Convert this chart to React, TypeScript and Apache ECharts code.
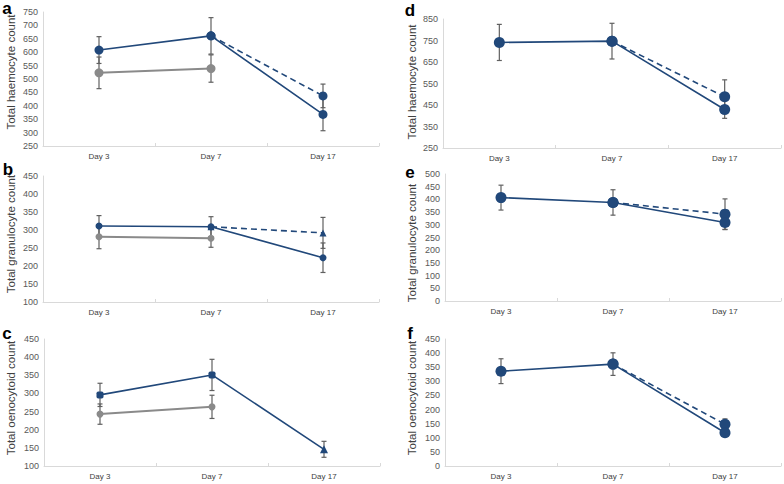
import React, { useEffect, useRef } from "react";
import * as echarts from "echarts";

const days = ["Day 3", "Day 7", "Day 17"];

// Panel a – haemocytes
const aBlue = [608, 661, 368];
const aBlueErr = [50, 68, 61];
const aDash = [null, 661, 437];
const aDashErr = [null, null, 44];
const aGray = [523, 539, null];
const aGrayErr = [59, 51, null];

// Panel b – granulocytes
const bBlue = [311, 309, 223];
const bBlueErr = [29, 28, 41];
const bDash = [null, 309, 292];
const bDashErr = [null, null, 43];
const bGray = [281, 277, null];
const bGrayErr = [33, 25, null];

// Panel c – oenocytoids
const cBlue = [296, 351, 146];
const cBlueErr = [32, 43, 22];
const cGray = [243, 263, null];
const cGrayErr = [28, 32, null];

// Panel d – haemocytes
const dBlue = [741, 747, 429];
const dBlueErr = [84, 83, 41];
const dDash = [null, 747, 488];
const dDashErr = [null, null, 79];

// Panel e – granulocytes
const eBlue = [407, 388, 309];
const eBlueErr = [49, 50, 28];
const eDash = [null, 388, 342];
const eDashErr = [null, null, 60];

// Panel f – oenocytoids
const fBlue = [336, 361, 118];
const fBlueErr = [44, 40, 12];
const fDash = [null, 361, 148];
const fDashErr = [null, null, 19];

const yTitles = [
  "Total haemocyte count",
  "Total granulocyte count",
  "Total oenocytoid count",
  "Total haemocyte count",
  "Total granulocyte count",
  "Total oenocytoid count",
];
const letters = ["a", "b", "c", "d", "e", "f"];
const yRanges = [
  [250, 750, 50, 50],
  [100, 450, 50, 50],
  [100, 450, 50, 50],
  [250, 850, 50, 100],
  [0, 500, 50, 50],
  [0, 450, 50, 50],
];

const BLUE = "#21487a";
const GRAY = "#8a8a8a";
const ERR = "#606060";

const grids = [
  { left: 43, top: 12, width: 336, height: 134 },
  { left: 43, top: 176, width: 336, height: 126 },
  { left: 44, top: 339, width: 336, height: 127 },
  { left: 443, top: 19, width: 338, height: 129 },
  { left: 445, top: 174, width: 336, height: 127 },
  { left: 445, top: 339, width: 336, height: 127 },
];
const titlePos = [
  [11, 72], [11, 234], [11, 398],
  [412, 82], [412, 243], [412, 398],
];
const letterPos = [
  [7, 8], [8, 169], [7, 333],
  [410, 10], [410, 172], [410, 333],
];

function errData(vals: (number | null)[], errs: (number | null)[]) {
  const out: any[] = [];
  vals.forEach((v, i) => {
    const e = errs[i];
    if (v != null && e != null) out.push([i, v - e, v + e]);
  });
  return out;
}

function errSeries(idx: number, vals: (number | null)[], errs: (number | null)[]) {
  return {
    type: "custom",
    xAxisIndex: idx,
    yAxisIndex: idx,
    z: 1,
    silent: true,
    data: errData(vals, errs),
    renderItem: (params: any, api: any) => {
      const lo = api.coord([api.value(0), api.value(1)]);
      const hi = api.coord([api.value(0), api.value(2)]);
      const w = 2.5;
      const style = { stroke: ERR, lineWidth: 1.2 };
      return {
        type: "group",
        children: [
          { type: "line", shape: { x1: lo[0], y1: lo[1], x2: hi[0], y2: hi[1] }, style },
          { type: "line", shape: { x1: lo[0] - w, y1: lo[1], x2: lo[0] + w, y2: lo[1] }, style },
          { type: "line", shape: { x1: hi[0] - w, y1: hi[1], x2: hi[0] + w, y2: hi[1] }, style },
        ],
      };
    },
  };
}

function lineSeries(
  idx: number,
  vals: (number | null)[],
  color: string,
  symbol: string,
  size: number,
  dashed = false,
  width = 1.6
) {
  return {
    type: "line",
    xAxisIndex: idx,
    yAxisIndex: idx,
    z: 3,
    data: vals,
    symbol,
    symbolSize: size,
    showSymbol: true,
    connectNulls: false,
    itemStyle: { color, opacity: 1 },
    lineStyle: { color, width, type: dashed ? [6, 4] : "solid" },
  };
}

export default function App() {
  const ref = useRef<HTMLDivElement>(null);
  useEffect(() => {
    if (!ref.current) return;
    const chart = echarts.init(ref.current, undefined, { renderer: "svg" });

    const xAxis = grids.map((_, i) => ({
      type: "category",
      gridIndex: i,
      data: days,
      boundaryGap: true,
      axisLine: { lineStyle: { color: "#d9d9d9", width: 1 } },
      axisTick: { show: true, inside: true, length: 3, lineStyle: { color: "#d9d9d9" } },
      axisLabel: { color: "#404040", fontSize: 8, fontFamily: "Liberation Sans", margin: 6 },
      splitLine: { show: false },
    }));

    const yAxis = yRanges.map((r, i) => ({
      type: "value",
      gridIndex: i,
      min: r[0],
      max: r[1],
      interval: r[2],
      axisLine: { show: true, lineStyle: { color: "#d9d9d9", width: 1 } },
      axisTick: { show: false },
      splitLine: { show: false },
      axisLabel: {
        color: "#595959",
        fontSize: 9,
        fontFamily: "Liberation Sans",
        margin: 5,
        formatter: (v: number) => ((v - r[0]) % r[3] === 0 ? String(v) : ""),
      },
    }));

    const series: any[] = [
      // a
      errSeries(0, aGray, aGrayErr),
      errSeries(0, aBlue, aBlueErr),
      errSeries(0, aDash, aDashErr),
      lineSeries(0, aGray, GRAY, "circle", 9, false, 2),
      lineSeries(0, aDash, BLUE, "circle", 9, true),
      lineSeries(0, aBlue, BLUE, "circle", 9),
      // b
      errSeries(1, bGray, bGrayErr),
      errSeries(1, bBlue, bBlueErr),
      errSeries(1, bDash, bDashErr),
      lineSeries(1, bGray, GRAY, "circle", 7, false, 2),
      lineSeries(1, bDash, BLUE, "triangle", 7, true),
      lineSeries(1, bBlue, BLUE, "circle", 7),
      // c
      errSeries(2, cGray, cGrayErr),
      errSeries(2, cBlue, cBlueErr),
      lineSeries(2, cGray, GRAY, "circle", 7, false, 2),
      {
        ...lineSeries(2, cBlue, BLUE, "roundRect", 7),
        data: cBlue.map((v, i) => (i === 2 ? { value: v, symbol: "triangle", symbolSize: 8 } : v)),
      },
      // d
      errSeries(3, dBlue, dBlueErr),
      errSeries(3, dDash, dDashErr),
      lineSeries(3, dDash, BLUE, "circle", 11, true),
      lineSeries(3, dBlue, BLUE, "circle", 11),
      // e
      errSeries(4, eBlue, eBlueErr),
      errSeries(4, eDash, eDashErr),
      lineSeries(4, eDash, BLUE, "circle", 11, true),
      lineSeries(4, eBlue, BLUE, "circle", 11),
      // f
      errSeries(5, fBlue, fBlueErr),
      errSeries(5, fDash, fDashErr),
      lineSeries(5, fDash, BLUE, "circle", 11, true),
      lineSeries(5, fBlue, BLUE, "circle", 11),
    ];

    const graphic: any[] = [];
    yTitles.forEach((t, i) => {
      graphic.push({
        type: "text",
        x: titlePos[i][0],
        y: titlePos[i][1],
        rotation: Math.PI / 2,
        style: {
          text: t,
          fill: "#404040",
          fontSize: 11.5,
          fontFamily: "Liberation Sans",
          align: "center",
          verticalAlign: "middle",
        },
      });
    });
    letters.forEach((l, i) => {
      graphic.push({
        type: "text",
        x: letterPos[i][0],
        y: letterPos[i][1],
        style: {
          text: l,
          fill: "#000",
          fontSize: 17,
          fontWeight: "bold",
          fontFamily: "Liberation Sans",
          align: "center",
          verticalAlign: "middle",
        },
      });
    });

    chart.setOption({
      animation: false,
      backgroundColor: "#ffffff",
      grid: grids,
      xAxis,
      yAxis,
      series,
      graphic,
    });
    return () => chart.dispose();
  }, []);

  return (
    <div
      ref={ref}
      style={{ position: "fixed", left: 0, top: 0, width: 784, height: 484, background: "#fff" }}
    />
  );
}
